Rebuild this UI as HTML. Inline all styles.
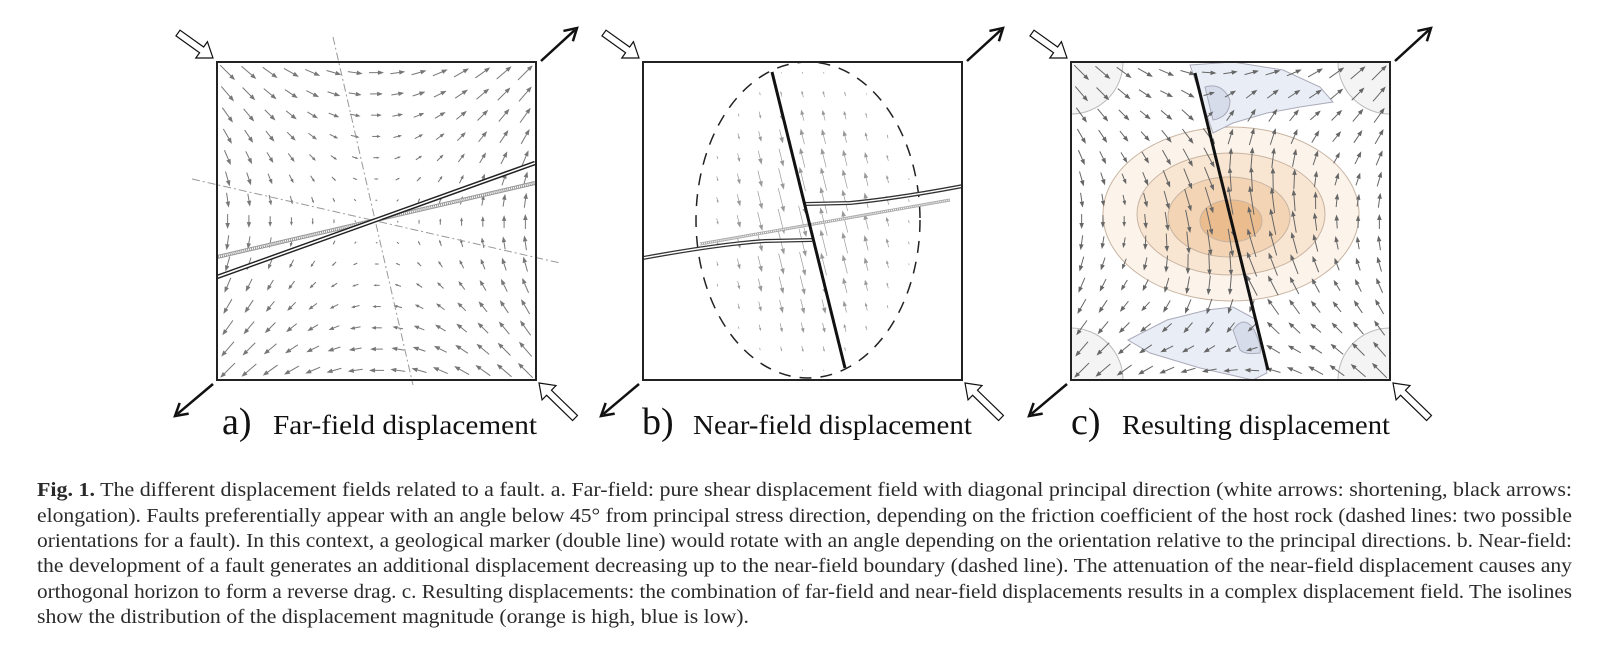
<!DOCTYPE html>
<html><head><meta charset="utf-8"><style>
html,body{margin:0;padding:0;background:#fff;}
svg{display:block;}
</style></head><body>
<svg id="fig" width="1605" height="657" viewBox="0 0 1605 657" xmlns="http://www.w3.org/2000/svg" font-family="'Liberation Serif', serif">
<defs>
<clipPath id="clipA"><rect x="217" y="62" width="319" height="318"/></clipPath>
<clipPath id="clipB"><rect x="643" y="62" width="319" height="318"/></clipPath>
<clipPath id="clipC"><rect x="1071" y="62" width="319" height="318"/></clipPath>
</defs>

<g>
  <rect x="217" y="62" width="319" height="318" fill="#fff" stroke="none"/>
  <g id="fieldA" clip-path="url(#clipA)"></g>
  <line x1="333" y1="37" x2="413" y2="385" stroke="#999" stroke-width="1" stroke-dasharray="8,3,2,3"/>
  <line x1="192" y1="179" x2="560" y2="263" stroke="#999" stroke-width="1" stroke-dasharray="8,3,2,3"/>
  <g clip-path="url(#clipA)">
    <line x1="217" y1="257" x2="535" y2="183" stroke="#999" stroke-width="4"/>
    <line x1="217" y1="257" x2="535" y2="183" stroke="#fff" stroke-width="2" stroke-dasharray="1,1"/>
    <line x1="217" y1="277" x2="535" y2="163" stroke="#222" stroke-width="4.5"/>
    <line x1="217" y1="277" x2="535" y2="163" stroke="#fff" stroke-width="1.6"/>
  </g>
  <rect x="217" y="62" width="319" height="318" fill="none" stroke="#222" stroke-width="2"/>
</g>

<g>
  <g id="fieldB" clip-path="url(#clipB)"></g>
  <ellipse cx="808" cy="220" rx="112" ry="158" fill="none" stroke="#222" stroke-width="1.5" stroke-dasharray="12,9"/>
  <g clip-path="url(#clipB)">
    <path d="M700,244 L950,200" stroke="#aaa" stroke-width="3" fill="none"/>
    <path d="M700,244 L950,200" stroke="#fff" stroke-width="1.2" stroke-dasharray="1,1" fill="none"/>
    <path d="M643,258 Q720,244 765,241 L812,240" stroke="#333" stroke-width="4" fill="none"/>
    <path d="M643,258 Q720,244 765,241 L812,240" stroke="#fff" stroke-width="1.4" fill="none"/>
    <path d="M805,204 L850,203 Q900,198 963,186" stroke="#333" stroke-width="4" fill="none"/>
    <path d="M805,204 L850,203 Q900,198 963,186" stroke="#fff" stroke-width="1.4" fill="none"/>
  </g>
  <line x1="772" y1="72" x2="845" y2="368" stroke="#111" stroke-width="3"/>
  <rect x="643" y="62" width="319" height="318" fill="none" stroke="#222" stroke-width="2"/>
</g>

<g>
  <g clip-path="url(#clipC)">
    <rect x="1071" y="62" width="319" height="318" fill="#fff"/>
    <g fill="#f4f4f4" stroke="#bbb" stroke-width="1">
      <circle cx="1071" cy="62" r="52"/><circle cx="1390" cy="62" r="52"/>
      <circle cx="1071" cy="380" r="52"/><circle cx="1390" cy="380" r="52"/>
    </g>
    <g stroke="#c8b3a0" stroke-width="1">
      <ellipse cx="1231" cy="214" rx="128" ry="87" fill="#fcf4eb"/>
      <ellipse cx="1231" cy="214" rx="94" ry="61" fill="#f8e6d3"/>
      <ellipse cx="1229" cy="217" rx="61" ry="40" fill="#f3d5b5"/>
      <ellipse cx="1231" cy="221" rx="31" ry="21" fill="#ebbd8e"/>
    </g>
    <g stroke="#aab" stroke-width="1">
      <path d="M1190,65 L1233,62 L1283,70 L1320,87 L1333,102 L1300,107 L1267,113 L1233,123 L1213,133 Z" fill="#e9eef6"/>
      <path d="M1205,87 Q1222,82 1230,100 Q1230,117 1213,120 Z" fill="#d6dcea"/>
      <path d="M1128,340 L1167,320 L1207,310 L1233,307 L1257,320 L1267,373 L1253,380 L1200,368 L1150,353 Z" fill="#e9eef6"/>
      <path d="M1233,330 Q1243,315 1253,328 Q1262,345 1260,353 Q1245,355 1240,350 Z" fill="#d6dcea"/>
    </g>
    <g id="fieldC"></g>
  </g>
  <line x1="1195" y1="73" x2="1268" y2="370" stroke="#111" stroke-width="3"/>
  <rect x="1071" y="62" width="319" height="318" fill="none" stroke="#222" stroke-width="2"/>
</g>

<g id="corners"></g>

<g fill="#111">
  <text x="222" y="434" font-size="38">a)</text>
  <text x="273" y="434" font-size="27" textLength="264" lengthAdjust="spacingAndGlyphs">Far-field displacement</text>
  <text x="642" y="434" font-size="38">b)</text>
  <text x="693" y="434" font-size="27" textLength="279" lengthAdjust="spacingAndGlyphs">Near-field displacement</text>
  <text x="1071" y="434" font-size="38">c)</text>
  <text x="1122" y="434" font-size="27" textLength="268" lengthAdjust="spacingAndGlyphs">Resulting displacement</text>
</g>

<g fill="#2a2a2a" font-size="20">
  <text x="37" y="496" textLength="1535" lengthAdjust="spacingAndGlyphs"><tspan font-weight="bold">Fig. 1.</tspan> The different displacement fields related to a fault. a. Far-field: pure shear displacement field with diagonal principal direction (white arrows: shortening, black arrows:</text>
  <text x="37" y="522" textLength="1535" lengthAdjust="spacingAndGlyphs">elongation). Faults preferentially appear with an angle below 45° from principal stress direction, depending on the friction coefficient of the host rock (dashed lines: two possible</text>
  <text x="37" y="547" textLength="1535" lengthAdjust="spacingAndGlyphs">orientations for a fault). In this context, a geological marker (double line) would rotate with an angle depending on the orientation relative to the principal directions. b. Near-field:</text>
  <text x="37" y="572" textLength="1535" lengthAdjust="spacingAndGlyphs">the development of a fault generates an additional displacement decreasing up to the near-field boundary (dashed line). The attenuation of the near-field displacement causes any</text>
  <text x="37" y="598" textLength="1535" lengthAdjust="spacingAndGlyphs">orthogonal horizon to form a reverse drag. c. Resulting displacements: the combination of far-field and near-field displacements results in a complex displacement field. The isolines</text>
  <text x="37" y="623" textLength="712" lengthAdjust="spacingAndGlyphs">show the distribution of the displacement magnitude (orange is high, blue is low).</text>
</g>
</svg>
<script>
const panelLeft = [217, 643, 1071];
const panelTop = [62, 62, 62];
const gridCount = [15, 15, 15];
const farShearGain = [0.1];
const nearMaxLen = [34];
const nearEllipse = [112, 158];
const faultB = [772, 72, 845, 368];
const faultC = [1195, 73, 1268, 370];

const NS = 'http://www.w3.org/2000/svg';
function arrow(g, cx, cy, vx, vy, col, w) {
  const L = Math.hypot(vx, vy);
  if (L < 1.2) return;
  const ux = vx / L, uy = vy / L;
  const x1 = cx - vx / 2, y1 = cy - vy / 2, x2 = cx + vx / 2, y2 = cy + vy / 2;
  const h = Math.min(6, L * 0.45), hw = h * 0.38;
  const a = document.createElementNS(NS, 'g');
  
  
  const ln = document.createElementNS(NS, 'line');
  ln.setAttribute('x1', x1); ln.setAttribute('y1', y1);
  ln.setAttribute('x2', x2 - ux * h * 0.6); ln.setAttribute('y2', y2 - uy * h * 0.6);
  ln.setAttribute('stroke', col); ln.setAttribute('stroke-width', w);
  const p = document.createElementNS(NS, 'polygon');
  const bx = x2 - ux * h, by = y2 - uy * h;
  p.setAttribute('points', `${x2},${y2} ${bx - uy * hw},${by + ux * hw} ${bx + uy * hw},${by - ux * hw}`);
  p.setAttribute('fill', col);
  a.appendChild(ln); a.appendChild(p); g.appendChild(a);
}
function far(sx, sy) { const k = farShearGain[0]; return [-sy * k, -sx * k]; }
function near(px, py, f, ecx, ecy) {
  const dx = f[2] - f[0], dy = f[3] - f[1], L = Math.hypot(dx, dy);
  const ux = dx / L, uy = dy / L;
  const ex = (px - ecx) / nearEllipse[0], ey = (py - ecy) / nearEllipse[1];
  const rho = Math.hypot(ex, ey);
  if (rho >= 1) return [0, 0];
  const side = (px - f[0]) * uy - (py - f[1]) * ux;
  const s = side < 0 ? 1 : -1;
  const m = nearMaxLen[0] * (1 - rho);
  return [s * ux * m, s * uy * m];
}
const S = 319;
function grid(idx, fn, col, w) {
  const g = document.getElementById(['fieldA', 'fieldB', 'fieldC'][idx]);
  const n = gridCount[idx], step = S / n;
  for (let i = 0; i < n; i++) for (let j = 0; j < n; j++) {
    const px = panelLeft[idx] + step * (i + 0.5), py = panelTop[idx] + step * (j + 0.5);
    const v = fn(px, py, px - panelLeft[idx] - S / 2, py - panelTop[idx] - S / 2);
    arrow(g, px, py, v[0], v[1], col, w);
  }
}
grid(0, (px, py, sx, sy) => far(sx, sy), '#777', 1);
grid(1, (px, py) => near(px, py, faultB, 808, 220), '#999', 0.7);
grid(2, (px, py, sx, sy) => {
  const a = far(sx, sy), b = near(px, py, faultC, 1236, 220);
  return [a[0] + b[0], a[1] + b[1]];
}, '#666', 1);

const cg = document.getElementById('corners');
function bigArrow(tx, ty, hx, hy, filled) {
  const vx = hx - tx, vy = hy - ty, L = Math.hypot(vx, vy), ux = vx / L, uy = vy / L;
  const g = document.createElementNS(NS, 'g');
  
  
  if (filled) {
    const h = 12, hw = 7, bx = hx - ux * h, by = hy - uy * h;
    const ln = document.createElementNS(NS, 'line');
    ln.setAttribute('x1', tx); ln.setAttribute('y1', ty); ln.setAttribute('x2', hx - ux * 3); ln.setAttribute('y2', hy - uy * 3);
    ln.setAttribute('stroke', '#111'); ln.setAttribute('stroke-width', 2.5);
    const p = document.createElementNS(NS, 'polyline');
    p.setAttribute('points', `${bx - uy * hw},${by + ux * hw} ${hx},${hy} ${bx + uy * hw},${by - ux * hw}`);
    p.setAttribute('fill', 'none'); p.setAttribute('stroke', '#111'); p.setAttribute('stroke-width', 2.5);
    g.appendChild(ln); g.appendChild(p);
  } else {
    const h = 14, hw = 10, sw = 3.5, bx = hx - ux * h, by = hy - uy * h;
    const nx = -uy, ny = ux;
    const pts = [[tx + nx * sw, ty + ny * sw], [bx + nx * sw, by + ny * sw], [bx + nx * hw, by + ny * hw], [hx, hy],
      [bx - nx * hw, by - ny * hw], [bx - nx * sw, by - ny * sw], [tx - nx * sw, ty - ny * sw]];
    const p = document.createElementNS(NS, 'polygon');
    p.setAttribute('points', pts.map(q => q.join(',')).join(' '));
    p.setAttribute('fill', '#fff'); p.setAttribute('stroke', '#111'); p.setAttribute('stroke-width', 1.2);
    g.appendChild(p);
  }
  cg.appendChild(g);
}
[0, 426, 854].forEach(o => {
  bigArrow(178 + o, 33, 213 + o, 58, false);
  bigArrow(575 + o, 418, 539 + o, 383, false);
  bigArrow(541 + o, 61, 577 + o, 28, true);
  bigArrow(213 + o, 384, 175 + o, 416, true);
});
</script>
</body></html>
